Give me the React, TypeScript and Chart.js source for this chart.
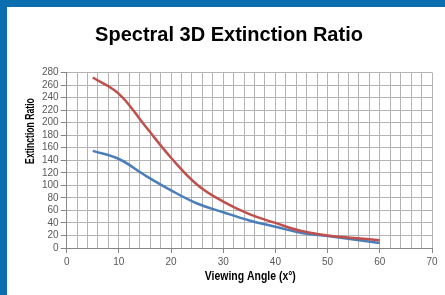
import React, { useEffect, useRef } from "react";
import { Chart, registerables } from "chart.js";

Chart.register(...registerables);

const angles = [5, 10, 15, 20, 25, 30, 35, 40, 45, 50, 55, 60];
const redSeries = [272, 246, 195, 144, 101, 74, 54, 40, 27, 20, 16, 12.5];
const blueSeries = [155, 142, 116, 92, 71, 57, 44, 34, 24, 19, 13.5, 8];
const xTickLabels = [0, 10, 20, 30, 40, 50, 60, 70];

const TITLE = "Spectral 3D Extinction Ratio";
const X_TITLE = "Viewing Angle (x\u00B0)";
const Y_TITLE = "Extinction Ratio";

const SANS = "'Liberation Sans', Arial, sans-serif";

// Draws the two axis titles in a condensed bold face (horizontally compressed text)
const axisTitles = {
  id: "axisTitles",
  afterDraw(chart: any) {
    const { ctx, chartArea } = chart;
    ctx.save();
    ctx.fillStyle = "#000000";
    ctx.textAlign = "center";
    ctx.textBaseline = "middle";
    // x title
    ctx.save();
    ctx.font = `bold 12px ${SANS}`;
    ctx.translate((chartArea.left + chartArea.right) / 2 + 1, 270);
    ctx.scale(0.87, 1);
    ctx.fillText(X_TITLE, 0, 0);
    ctx.restore();
    // y title
    ctx.save();
    ctx.font = `bold 12px ${SANS}`;
    ctx.translate(24, 124);
    ctx.rotate(-Math.PI / 2);
    ctx.scale(0.72, 1);
    ctx.fillText(Y_TITLE, 0, 0);
    ctx.restore();
    ctx.restore();
  },
};

export default function App() {
  const ref = useRef<HTMLCanvasElement | null>(null);
  useEffect(() => {
    if (!ref.current) return;
    const chart = new Chart(ref.current, {
      type: "line",
      data: {
        datasets: [
          {
            label: "Red",
            data: angles.map((a, i) => ({ x: a, y: redSeries[i] })),
            borderColor: "#C0504D",
            borderWidth: 2.5,
            pointRadius: 0,
            tension: 0.4,
            fill: false,
          },
          {
            label: "Blue",
            data: angles.map((a, i) => ({ x: a, y: blueSeries[i] })),
            borderColor: "#4A7EBB",
            borderWidth: 2.5,
            pointRadius: 0,
            tension: 0.4,
            fill: false,
          },
        ],
      },
      plugins: [axisTitles],
      options: {
        responsive: false,
        animation: false,
        layout: { padding: { left: 19, right: 13, top: 0, bottom: 24 } },
        plugins: {
          legend: { display: false },
          tooltip: { enabled: false },
          title: {
            display: true,
            text: TITLE,
            color: "#000000",
            font: { family: SANS, size: 20, weight: "bold" },
            padding: { top: 16, bottom: 25.5 },
          },
        },
        scales: {
          x: {
            type: "linear",
            min: 0,
            max: 70,
            ticks: {
              stepSize: 2,
              autoSkip: false,
              maxRotation: 0,
              color: "#595959",
              font: { family: SANS, size: 10 },
              padding: 3,
              callback: (v: any) => (xTickLabels.includes(Number(v)) ? String(v) : ""),
            },
            grid: {
              color: "#B3B3B3",
              lineWidth: 1,
              tickLength: 5,
              tickColor: (ctx: any) =>
                ctx.tick && xTickLabels.includes(ctx.tick.value) ? "#868686" : "rgba(0,0,0,0)",
            },
            border: { color: "#868686", width: 1 },
          },
          y: {
            min: 0,
            max: 280,
            afterFit: (scale: any) => {
              scale.width += 14;
            },
            ticks: {
              stepSize: 20,
              autoSkip: false,
              color: "#595959",
              font: { family: SANS, size: 10 },
              padding: 2,
            },
            grid: {
              color: "#B3B3B3",
              lineWidth: 1,
              tickLength: 6,
              tickColor: "#868686",
            },
            border: { color: "#868686", width: 1 },
          },
        },
      },
    });
    return () => chart.destroy();
  }, []);

  return (
    <div
      style={{
        position: "absolute",
        left: 0,
        top: 0,
        width: 445,
        height: 295,
        boxSizing: "border-box",
        borderTop: "7px solid #0B6FAF",
        borderLeft: "7px solid #0B6FAF",
        background: "#ffffff",
      }}
    >
      <canvas ref={ref} width={438} height={288} style={{ display: "block" }} />
    </div>
  );
}
